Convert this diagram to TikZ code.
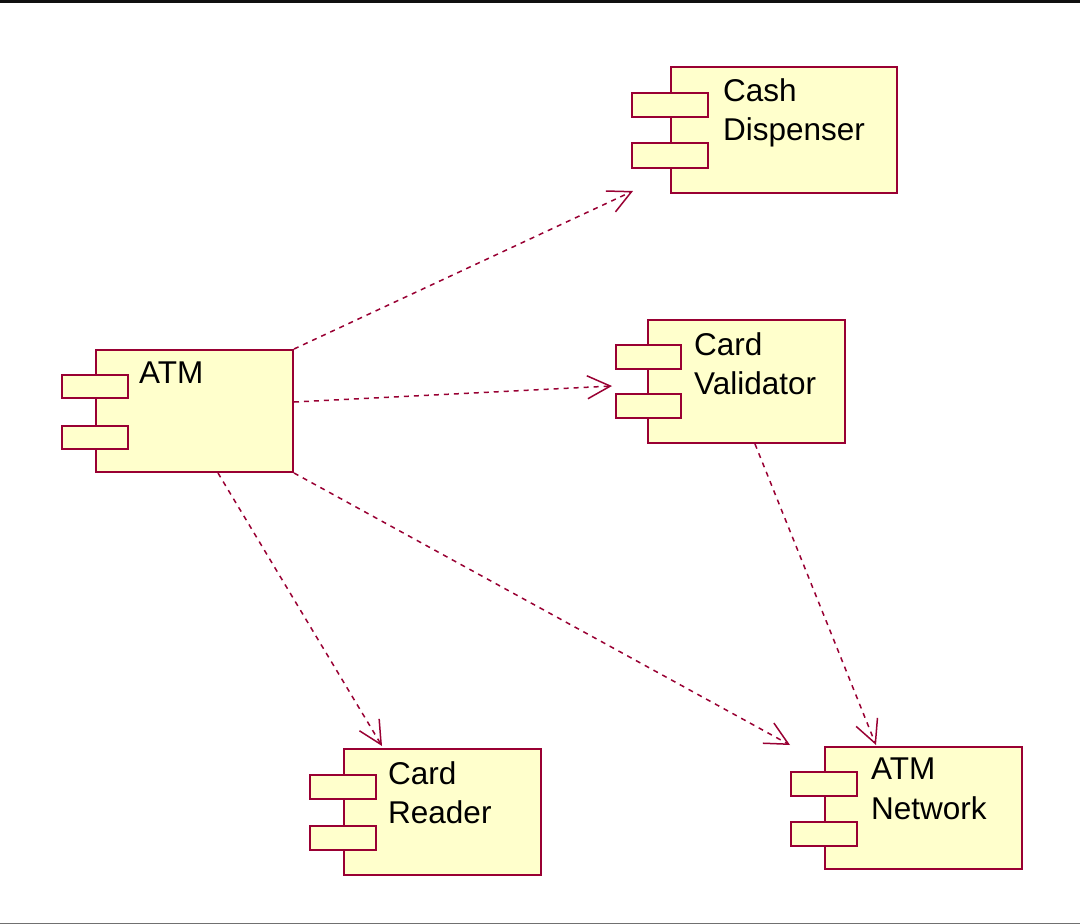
\documentclass[tikz,border=0pt]{standalone}
\usepackage{fontspec}
\setmainfont{Liberation Sans}
\usetikzlibrary{arrows.meta,calc}
\definecolor{rosered}{RGB}{153,0,51}
\definecolor{roseyellow}{RGB}{255,255,204}
\definecolor{topbar}{RGB}{16,16,16}
\definecolor{botline}{RGB}{112,112,112}
\tikzset{
  comp/.style={draw=rosered, fill=roseyellow, line width=2pt, inner sep=0pt, minimum width=197pt, minimum height=122pt},
  port/.style={draw=rosered, fill=roseyellow, line width=2pt, inner sep=0pt, minimum width=66pt, minimum height=23pt},
  lbl/.style={anchor=north west, inner sep=0pt, align=left, text=black, font=\fontsize{31.5}{39.5}\selectfont},
  dep/.style={draw=rosered, line width=1.5pt, dash pattern=on 5pt off 5pt, -{Straight Barb[length=23pt,width=23pt]}}
}
\begin{document}
\begin{tikzpicture}[x=1pt,y=-1pt]
\useasboundingbox (0,0) rectangle (1080,924);
\fill[white] (0,0) rectangle (1080,924);
\fill[topbar] (0,0) rectangle (1080,3);
\fill[botline] (0,922.5) rectangle (1080,924);

% ATM
\node[comp] (atm) at (194.5,411) {};
\node[port] (atmp1) at (95,386.5) {};
\node[port] (atmp2) at (95,437) {};
\node[lbl] (atmt) at (139,362) {ATM};

% Cash Dispenser
\node[comp, minimum width=226pt, minimum height=126pt] (cd) at (784,130) {};
\node[port, minimum width=76pt, minimum height=24pt] (cdp1) at (670,105) {};
\node[port, minimum width=76pt, minimum height=25pt] (cdp2) at (670,155.5) {};
\node[lbl] (cdt) at (723,78) {Cash\\Dispenser};

% Card Validator
\node[comp, minimum height=123pt] (cv) at (746.5,381.5) {};
\node[port, minimum width=65pt, minimum height=24pt] (cvp1) at (648.5,357) {};
\node[port, minimum width=65pt, minimum height=24pt] (cvp2) at (648.5,406) {};
\node[lbl] (cvt) at (694,332) {Card\\Validator};

% Card Reader
\node[comp, minimum height=126pt] (cr) at (442.5,812) {};
\node[port, minimum height=24pt] (crp1) at (343,787) {};
\node[port, minimum height=24pt] (crp2) at (343,838) {};
\node[lbl] (crt) at (388,761) {Card\\Reader};

% ATM Network
\node[comp] (an) at (923.5,808) {};
\node[port, minimum height=24pt] (anp1) at (824,784) {};
\node[port, minimum height=24pt] (anp2) at (824,834) {};
\node[lbl] (ant) at (871,758) {ATM\\Network};

% dependencies
\draw[dep] (atm.north east) -- ($(cd.south west)+(-37,-3)$);
\draw[dep] ($(atm.east)+(0,-9)$) -- ($(cv.west)+(-35,4.5)$);
\draw[dep] ($(atm.south)+(23.5,0)$) -- ($(cr.north west)+(39,-2)$);
\draw[dep] (atm.south east) -- ($(an.north west)+(-34,-1)$);
\draw[dep] ($(cv.south)+(8.5,0)$) -- ($(an.north west)+(52,-1)$);
\end{tikzpicture}
\end{document}
